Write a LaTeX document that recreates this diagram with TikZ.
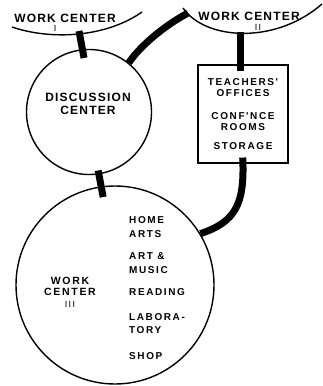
\documentclass[tikz,border=0pt]{standalone}
\usepackage{fontspec}
\newfontfamily\lbl[LetterSpace=10]{Liberation Sans}
\newfontfamily\lblw[LetterSpace=16]{Liberation Sans}
\usetikzlibrary{positioning}

\begin{document}
\begin{tikzpicture}[x=1pt, y=-1pt,
				room/.style={draw, circle, line width=1.4pt, inner sep=0pt},
				link/.style={line width=7pt},   %dicke Verbindungen
				lab/.style={font=\lbl\bfseries\fontsize{12}{13}\selectfont, align=center, inner sep=0pt},
				item/.style={font=\lblw\bfseries\fontsize{10}{13.5}\selectfont, align=left, inner sep=0pt, anchor=west},
				num/.style={font=\lblw\fontsize{9}{9}\selectfont, inner sep=0pt}]
				\useasboundingbox (0,0) rectangle (322,386);
				% Bereiche oben
				\draw[line width=1.4pt] (12,27) .. controls (50,40) and (105,38) .. (142,12);
				\draw[line width=1.4pt] (183,8) .. controls (205,40) and (275,45) .. (322,4);
				\node[lab] (wc1) at (65,18) {WORK CENTER};
				\node[num] (wc1n) at (55,28) {I};
				\node[lab] (wc2) at (249,16) {WORK CENTER};
				\node[num] (wc2n) at (258,27) {II};
				% Raeume
				\node[room, minimum size=125pt] (disc) at (89,112) {};
				\node[lab] (disct) at (88,104) {DISCUSSION\\CENTER};
				\node[draw, line width=1.1pt, minimum width=90pt, minimum height=98pt,
					font=\lblw\bfseries\fontsize{10}{11.2}\selectfont, align=center] (office) at (243,114)
					{TEACHERS'\\OFFICES\\[11.5pt]CONF'NCE\\ROOMS\\[8pt]STORAGE};
				\node[room, minimum size=198pt] (wc3) at (115,285) {};
				\node[lab, font=\lblw\bfseries\fontsize{10.5}{11.5}\selectfont] (wc3t) at (70,292)
					{WORK\\CENTER\\{\mdseries\fontsize{9}{9}\selectfont III}};
				\foreach \t/\y [count=\i] in {{HOME\\ARTS}/227, {ART \&\\MUSIC}/263, READING/292, {LABORA-\\TORY}/323.5, SHOP/356}
					\node[item] (use\i) at (129,\y) {\t};
				% Verbindungen
				\coordinate (wc1bar) at (79,31);
				\coordinate (wc2bar) at (240,32);
				\coordinate (wc2end) at (188,13);
				\draw[link, shorten >=-9pt] (wc1bar) -- (disc.96);
				\draw[link, shorten <=-4pt, shorten >=-11pt] (disc.-81) -- (wc3.98);
				\draw[link, shorten >=-7pt] (wc2bar) -- (wc2bar |- office.north);
				\draw[link] (disc.51) .. controls (137,50) and (160,28) .. (wc2end);
				\draw[link, shorten <=-6pt] (office.south) .. controls (245,205) and (235,222) .. (wc3.31);
			\end{tikzpicture}
\end{document}
